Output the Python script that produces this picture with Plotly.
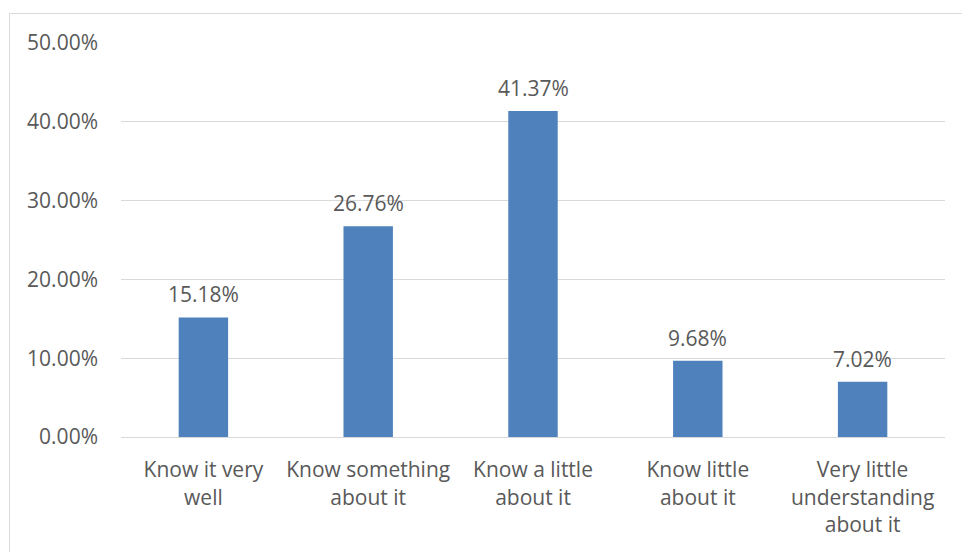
import plotly.graph_objects as go

categories = ["Know it very<br>well", "Know something<br>about it", "Know a little<br>about it",
              "Know little<br>about it", "Very little<br>understanding<br>about it"]
values = [0.1518, 0.2676, 0.4137, 0.0968, 0.0702]
labels = ["15.18%", "26.76%", "41.37%", "9.68%", "7.02%"]
tick_vals = [0, 0.1, 0.2, 0.3, 0.4, 0.5]
tick_text = ["0.00%", "10.00%", "20.00%", "30.00%", "40.00%", "50.00%"]

W, H = 962, 552
ml, mr, mt, mb = 121, 17, 43, 115
pw, ph = W - ml - mr, H - mt - mb

def px_x(x):
    return (x - ml) / pw

def px_y(y):
    return (H - mb - y) / ph

font = dict(family="Open Sans, Liberation Sans, sans-serif", size=21, color="#595959")

fig = go.Figure(go.Bar(
    x=categories, y=values, marker=dict(color="#4F81BD", line=dict(width=0)),
    width=0.30,
))

annotations = [dict(x=c, y=v, text=t, xref="x", yref="y", showarrow=False,
                    yanchor="bottom", yshift=7, font=font)
               for c, v, t in zip(categories, values, labels)]

fig.update_layout(
    width=W, height=H, margin=dict(l=ml, r=mr, t=mt, b=mb),
    paper_bgcolor="white", plot_bgcolor="white", font=font,
    showlegend=False, annotations=annotations,
    shapes=[dict(type="rect", xref="paper", yref="paper",
                 x0=px_x(9.5), x1=px_x(964), y0=px_y(554), y1=px_y(13.5),
                 line=dict(color="#D9D9D9", width=1), fillcolor="rgba(0,0,0,0)", layer="below")],
)
fig.update_xaxes(showgrid=False, showline=True, linecolor="#D9D9D9", linewidth=1,
                 ticks="", tickfont=font, tickangle=0, ticklabelstandoff=14)
fig.update_yaxes(range=[0, 0.5], tickvals=tick_vals, ticktext=tick_text, showgrid=True,
                 gridcolor="#D9D9D9", gridwidth=1, zeroline=False, showline=False,
                 tickfont=font, ticklabelstandoff=22)

fig.write_html("out.html")
